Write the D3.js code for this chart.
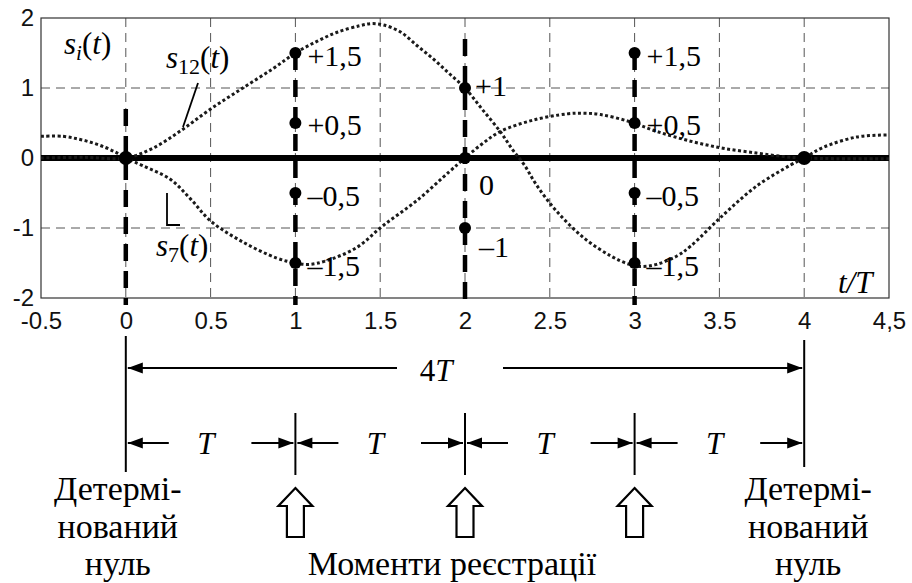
<!DOCTYPE html>
<html><head><meta charset="utf-8"><script src="https://cdn.jsdelivr.net/npm/d3@7"></script></head>
<body style="margin:0">
<svg id="s" width="912" height="583"></svg>
<script>
// ---- data ----
const xTicks = [-0.5, 0, 0.5, 1, 1.5, 2, 2.5, 3, 3.5, 4, 4.5];
const xTickLabels = ["-0.5", "0", "0.5", "1", "1.5", "2", "2.5", "3", "3.5", "4", "4,5"];
const yTicks = [2, 1, 0, -1, -2];
const yTickLabels = ["2", "1", "0", "-1", "-2"];

// signal s12(t)
const s12T = [-0.5, -0.25, 0, 0.16, 0.33, 0.5, 0.69, 0.87, 1.0, 1.13, 1.25, 1.38, 1.45, 1.52, 1.62, 1.72, 1.82, 1.91, 2.0, 2.1, 2.21, 2.28, 2.35, 2.42, 2.54, 2.7, 2.86, 2.97, 3.05, 3.13, 3.25, 3.33, 3.52, 3.72, 3.92, 4.0, 4.11, 4.31, 4.5];
const s12V = [0.0, 0.01, 0, 0.14, 0.4, 0.7, 1.0, 1.28, 1.5, 1.67, 1.8, 1.89, 1.92, 1.9, 1.8, 1.6, 1.4, 1.2, 1.0, 0.7, 0.37, 0.12, -0.1, -0.38, -0.76, -1.14, -1.4, -1.52, -1.55, -1.52, -1.4, -1.26, -0.82, -0.4, -0.1, 0, 0.15, 0.3, 0.33];

// signal s7(t)
const s7T = [-0.5, -0.37, -0.28, -0.2, -0.12, -0.05, 0, 0.1, 0.26, 0.38, 0.5, 0.69, 0.89, 1.0, 1.08, 1.18, 1.36, 1.52, 1.72, 1.91, 2.0, 2.1, 2.21, 2.4, 2.6, 2.7, 2.8, 2.97, 3.13, 3.33, 3.52, 3.72, 3.88, 4.0, 4.2, 4.5];
const s7V = [0.31, 0.31, 0.27, 0.22, 0.15, 0.07, 0, -0.11, -0.3, -0.58, -0.9, -1.2, -1.43, -1.5, -1.52, -1.47, -1.28, -0.96, -0.6, -0.19, 0, 0.2, 0.38, 0.54, 0.63, 0.64, 0.62, 0.52, 0.38, 0.24, 0.14, 0.07, 0.02, 0, -0.01, -0.01];

// registered sample values
const sampleT = [0, 1, 1, 1, 1, 2, 2, 2, 3, 3, 3, 3, 4];
const sampleV = [0, 1.5, 0.5, -0.5, -1.5, 1, 0, -1, 1.5, 0.5, -0.5, -1.5, 0];
const sampleLabels = ["", "+1,5", "+0,5", "–0,5", "–1,5", "+1", "0", "–1", "+1,5", "+0,5", "–0,5", "–1,5", ""];

// sampling instants (thick dashed lines) and the level where each starts
const markT = [0, 1, 2, 3];
const markTop = [0.7, 1.5, 1.7, 1.5];

const periodT = [0, 1, 2, 3, 4];
const registrationT = [1, 2, 3];

// ---- layout ----
const svg = d3.select("#s");
const x = d3.scaleLinear().domain([-0.5, 4.5]).range([41, 889]);
const y = d3.scaleLinear().domain([-2, 2]).range([298, 18]);

const fam = f => `"${f}"`;
const SANS = fam("Liberation Sans");
const SERIF = fam("Liberation Serif");

// serif text helper
function serifText(parent, size) {
  return parent.append("text").style("font-family", SERIF).attr("font-size", size).attr("fill", "#000");
}

// label offsets next to sample dots (dx, dy to baseline)
const labelOffset = [
  [0, 0], [12, 13], [12, 12], [12, 13], [12, 13],
  [10, 8], [14, 37], [14, 29],
  [12, 13], [12, 12], [12, 13], [12, 13], [0, 0]
];

// ---- grid ----
const grid = svg.append("g").attr("stroke", "#555").attr("stroke-width", 1)
  .attr("stroke-dasharray", "9,6").attr("fill", "none");
grid.selectAll("line.v").data(xTicks.filter(t => t > -0.5 && t < 4.5)).join("line")
  .attr("x1", d => x(d)).attr("x2", d => x(d))
  .attr("y1", y(2)).attr("y2", y(-2));
grid.selectAll("line.h").data([1, -1]).join("line")
  .attr("x1", x(-0.5)).attr("x2", x(4.5))
  .attr("y1", d => y(d)).attr("y2", d => y(d));

// frame
svg.append("rect")
  .attr("x", x(-0.5)).attr("y", y(2))
  .attr("width", x(4.5) - x(-0.5)).attr("height", y(-2) - y(2))
  .attr("fill", "none").attr("stroke", "#333").attr("stroke-width", 1.2);

// ---- axes ----
const xAxis = d3.axisBottom(x).tickValues(xTicks)
  .tickFormat((d, i) => xTickLabels[i]).tickSize(0).tickPadding(14);
svg.append("g").attr("transform", `translate(0,${y(-2)})`).call(xAxis)
  .call(g => g.select(".domain").remove())
  .selectAll("text").style("font-family", SANS).attr("font-size", 24).attr("fill", "#111");

const yAxis = d3.axisLeft(y).tickValues(yTicks)
  .tickFormat((d, i) => yTickLabels[i]).tickSize(0).tickPadding(7);
svg.append("g").attr("transform", `translate(${x(-0.5)},0)`).call(yAxis)
  .call(g => g.select(".domain").remove())
  .selectAll("text").style("font-family", SANS).attr("font-size", 24).attr("fill", "#111");

// ---- thick zero line ----
svg.append("line")
  .attr("x1", x(-0.5)).attr("x2", x(4.5))
  .attr("y1", y(0)).attr("y2", y(0))
  .attr("stroke", "#000").attr("stroke-width", 6);

// ---- thick dashed sampling lines ----
svg.append("g").selectAll("line").data(markT).join("line")
  .attr("x1", d => x(d)).attr("x2", d => x(d))
  .attr("y1", (d, i) => y(markTop[i])).attr("y2", y(-2) + 7)
  .attr("stroke", "#000").attr("stroke-width", 4.5)
  .attr("stroke-dasharray", "17,10");

// ---- signal curves ----
const line = d3.line().x(d => x(d[0])).y(d => y(d[1])).curve(d3.curveCatmullRom.alpha(0.5));
[[s12T, s12V], [s7T, s7V]].forEach(([T, V]) => {
  svg.append("path")
    .datum(T.map((t, i) => [t, V[i]]))
    .attr("d", line)
    .attr("fill", "none").attr("stroke", "#1a1a1a")
    .attr("stroke-width", 3).attr("stroke-dasharray", "3,2.5");
});

// ---- sample dots and value labels ----
svg.append("g").selectAll("circle").data(sampleT).join("circle")
  .attr("cx", d => x(d)).attr("cy", (d, i) => y(sampleV[i]))
  .attr("r", (d, i) => sampleLabels[i] === "" ? 7 : 6)
  .attr("fill", "#000");
sampleT.forEach((t, i) => {
  if (!sampleLabels[i]) return;
  serifText(svg, 30)
    .attr("x", x(t) + labelOffset[i][0])
    .attr("y", y(sampleV[i]) + labelOffset[i][1])
    .text(sampleLabels[i]);
});

// ---- curve names ----
function sigLabel(px, py, sub) {
  const t = serifText(svg, 31).attr("x", px).attr("y", py);
  t.append("tspan").style("font-style", "italic").text("s");
  t.append("tspan").attr("font-size", sub === "i" ? 21 : 22).attr("dy", 6)
    .style("font-style", sub === "i" ? "italic" : "normal").text(sub);
  t.append("tspan").attr("dy", -6).text("(");
  t.append("tspan").style("font-style", "italic").text("t");
  t.append("tspan").text(")");
}
sigLabel(64, 54, "i");
sigLabel(166, 68, "12");
sigLabel(156, 256, "7");

svg.append("line").attr("x1", 198).attr("y1", 83).attr("x2", 183).attr("y2", 127)
  .attr("stroke", "#000").attr("stroke-width", 1.8);
svg.append("path").attr("d", "M167,193 L167,225 L180,225")
  .attr("fill", "none").attr("stroke", "#000").attr("stroke-width", 1.8);

serifText(svg, 31).style("font-style", "italic").attr("x", 838).attr("y", 293).text("t/T");

// ---- lower timing diagram ----
const ink = svg.append("g").attr("stroke", "#000").attr("stroke-width", 2).attr("fill", "none");

function arrowHead(tipX, tipY, dir) {
  const L = 15, W = 5.5;
  svg.append("path")
    .attr("d", `M${tipX},${tipY} L${tipX - dir * L},${tipY - W} L${tipX - dir * L},${tipY + W} Z`)
    .attr("fill", "#000");
}

// boundary verticals at t = 0 and t = 4
ink.append("line").attr("x1", x(0)).attr("x2", x(0)).attr("y1", 336).attr("y2", 472);
ink.append("line").attr("x1", x(4)).attr("x2", x(4)).attr("y1", 340).attr("y2", 467);

// 4T span
const yFour = 368;
ink.append("line").attr("x1", x(0) + 2).attr("x2", 397).attr("y1", yFour).attr("y2", yFour);
ink.append("line").attr("x1", 503).attr("x2", x(4) - 2).attr("y1", yFour).attr("y2", yFour);
arrowHead(x(0) + 2, yFour, -1);
arrowHead(x(4) - 2, yFour, 1);
serifText(svg, 31).attr("x", 436).attr("y", 381).attr("text-anchor", "middle")
  .call(t => { t.append("tspan").text("4"); t.append("tspan").style("font-style", "italic").text("T"); });

// T spans between registration instants
const yT = 443;
ink.selectAll("line.tick").data(registrationT).join("line")
  .attr("x1", d => x(d)).attr("x2", d => x(d)).attr("y1", 413).attr("y2", 475);
periodT.slice(0, 4).forEach(k => {
  const a = x(k), b = x(k + 1);
  ink.append("line").attr("x1", a + 2).attr("x2", a + 43).attr("y1", yT).attr("y2", yT);
  ink.append("line").attr("x1", b - 44).attr("x2", b - 2).attr("y1", yT).attr("y2", yT);
  arrowHead(a + 2, yT, -1);
  arrowHead(b - 2, yT, 1);
  serifText(svg, 31).style("font-style", "italic")
    .attr("x", a + 80).attr("y", yT + 11).attr("text-anchor", "middle").text("T");
});

// hollow up-arrows marking the registration instants
svg.append("g").selectAll("path").data(registrationT).join("path")
  .attr("d", d => {
    const c = x(d);
    return `M${c},488 L${c + 17},506 L${c + 8.5},506 L${c + 8.5},537 L${c - 8.5},537 L${c - 8.5},506 L${c - 17},506 Z`;
  })
  .attr("fill", "#fff").attr("stroke", "#000").attr("stroke-width", 2.2).attr("stroke-linejoin", "miter");

// captions
const caption = ["Детермі-", "нований", "нуль"];
[x(0) - 8, x(4) + 4].forEach(cx => {
  caption.forEach((c, i) => {
    serifText(svg, 34).attr("x", cx).attr("y", 500 + i * 37.5)
      .attr("text-anchor", "middle").text(c);
  });
});
serifText(svg, 34).attr("x", 452).attr("y", 575).attr("text-anchor", "middle")
  .text("Моменти реєстрації");
</script></body></html>
